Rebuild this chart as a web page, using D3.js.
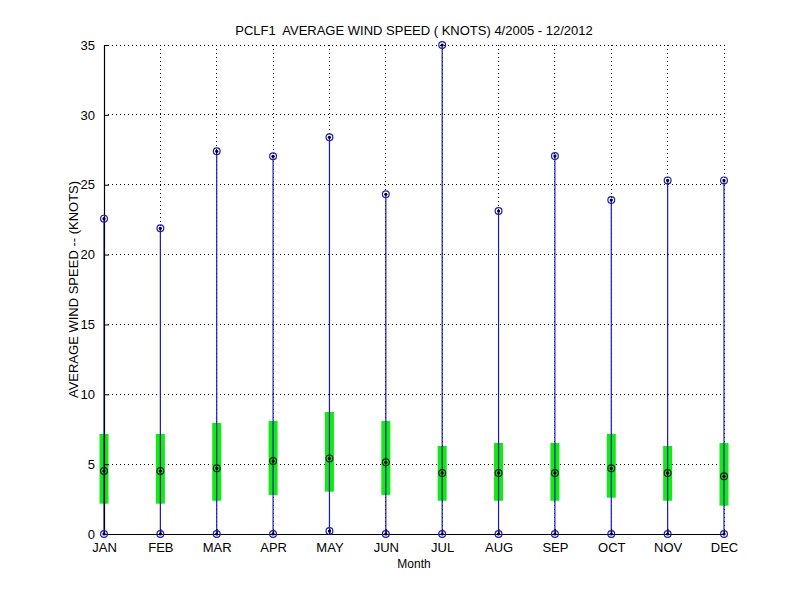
<!DOCTYPE html>
<html><head><meta charset="utf-8">
<script src="https://cdn.jsdelivr.net/npm/d3@7"></script>
<style>body{margin:0;background:#fff}svg{display:block}text{font-family:"Liberation Sans",Arial,sans-serif;fill:#000}</style>
</head><body><svg id="c" width="800" height="600"></svg>
<script>
const months = ["JAN","FEB","MAR","APR","MAY","JUN","JUL","AUG","SEP","OCT","NOV","DEC"];
const maxVals  = [22.57,21.88,27.39,27.03,28.39,24.31,35.0,23.12,27.06,23.9,25.31,25.31];
const minVals  = [0,0,0,0,0.21,0,0,0,0,0,0,0];
const meanVals = [4.51,4.51,4.70,5.22,5.41,5.13,4.37,4.37,4.37,4.70,4.37,4.13];
const boxLow   = [2.17,2.17,2.38,2.79,3.03,2.79,2.38,2.38,2.38,2.60,2.38,2.03];
const boxHigh  = [7.16,7.16,7.95,8.09,8.73,8.09,6.30,6.51,6.51,7.16,6.30,6.51];
const yTicks = [0,5,10,15,20,25,30,35];

const svg = d3.select("#c");
const L=104, R=724, T=45, B=534;
const x = d3.scaleLinear().domain([1,12]).range([L,R]);
const y = d3.scaleLinear().domain([0,35]).range([B,T]);
const idx = d3.range(months.length);

// grid
const g = svg.append("g");
g.selectAll("line.gx").data(idx.slice(1)).join("line")
  .attr("x1",i=>x(i+1)).attr("x2",i=>x(i+1)).attr("y1",B).attr("y2",T)
  .attr("stroke","#000").attr("stroke-width",1).attr("stroke-dasharray","1,3").attr("shape-rendering","crispEdges");
g.selectAll("line.gy").data(yTicks.slice(1)).join("line")
  .attr("x1",L).attr("x2",R).attr("y1",d=>y(d)).attr("y2",d=>y(d))
  .attr("stroke","#000").attr("stroke-width",1).attr("stroke-dasharray","1,3").attr("shape-rendering","crispEdges");

// boxes
svg.append("g").selectAll("rect").data(idx).join("rect")
  .attr("x",i=>x(i+1)-4.5).attr("width",9)
  .attr("y",i=>y(boxHigh[i])).attr("height",i=>y(boxLow[i])-y(boxHigh[i]))
  .attr("fill","#12ea12");

// whiskers
svg.append("g").selectAll("line").data(idx).join("line")
  .attr("x1",i=>x(i+1)).attr("x2",i=>x(i+1))
  .attr("y1",i=>y(minVals[i])).attr("y2",i=>y(maxVals[i]))
  .attr("stroke","#1a1ab8").attr("stroke-width",1.2);

// axes
const yAxis = d3.axisLeft(y).tickValues(yTicks).tickSize(-5).tickPadding(9).tickFormat(d3.format("d"));
const ya = svg.append("g").attr("transform",`translate(${L},0)`).call(yAxis);
const xAxis = d3.axisBottom(x).tickValues(idx.map(i=>i+1)).tickSize(-5).tickPadding(9).tickFormat(d=>months[d-1]);
const xa = svg.append("g").attr("transform",`translate(0,${B})`).call(xAxis);
[ya,xa].forEach(a=>{
  a.select(".domain").attr("stroke","#000").attr("stroke-width",1.2);
  a.selectAll(".tick line").attr("stroke","#000");
  a.selectAll(".tick text").attr("font-size",13).attr("font-family","Liberation Sans, Arial, sans-serif").attr("fill","#000");
});
ya.select(".domain").attr("d",`M0.5,${B}V${T}`);
xa.select(".domain").attr("d",`M${L},0.5H${R}`);

// markers
function markers(vals, stroke){
  const m = svg.append("g");
  m.selectAll("circle.o").data(idx).join("circle")
    .attr("cx",i=>x(i+1)).attr("cy",i=>y(vals[i])).attr("r",3.4)
    .attr("fill","none").attr("stroke",stroke).attr("stroke-width",1.2);
  m.selectAll("circle.d").data(idx).join("circle")
    .attr("cx",i=>x(i+1)).attr("cy",i=>y(vals[i])).attr("r",1.6)
    .attr("fill","#000");
}
markers(maxVals,"#1a1ab8");
markers(minVals,"#1a1ab8");
markers(meanVals,"#202020");

// labels
svg.append("text").attr("x",(L+R)/2).attr("y",35).attr("text-anchor","middle").attr("font-size",13)
  .style("white-space","pre").text("PCLF1  AVERAGE WIND SPEED ( KNOTS) 4/2005 - 12/2012");
svg.append("text").attr("x",(L+R)/2).attr("y",568).attr("text-anchor","middle").attr("font-size",12).text("Month");
svg.append("text").attr("transform",`translate(78,${(T+B)/2}) rotate(-90)`).attr("text-anchor","middle").attr("font-size",13)
  .text("AVERAGE WIND SPEED -- (KNOTS)");
</script></body></html>
